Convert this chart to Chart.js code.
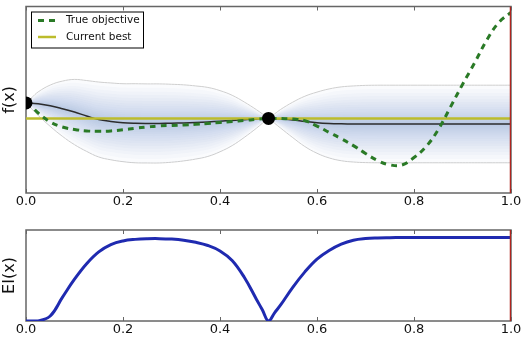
<!DOCTYPE html>
<html>
<head>
<meta charset="utf-8">
<script src="https://cdn.jsdelivr.net/npm/chart.js@4.4.1/dist/chart.umd.min.js"></script>
<style>
  html, body { margin: 0; padding: 0; background: #fff; }
  #wrap { position: relative; width: 521px; height: 339px; overflow: hidden; }
  canvas { position: absolute; left: 0; }
  #gpChart { top: 0; }
  #eiChart { top: 215px; }
</style>
</head>
<body>
<div id="wrap">
  <canvas id="gpChart" width="521" height="215"></canvas>
  <canvas id="eiChart" width="521" height="124"></canvas>
</div>
<script>
// Bayesian optimisation snapshot: GP posterior on top, expected improvement below

var xs = [0, 0.0125, 0.025, 0.05, 0.075, 0.1, 0.125, 0.15, 0.175, 0.2, 0.225, 0.25,
  0.275, 0.3, 0.325, 0.35, 0.375, 0.4, 0.425, 0.45, 0.475, 0.4875, 0.5, 0.5125,
  0.525, 0.55, 0.575, 0.6, 0.625, 0.65, 0.675, 0.7, 0.725, 0.75, 0.775, 0.8,
  0.825, 0.85, 0.875, 0.9, 0.925, 0.95, 0.975, 1.0];

// GP posterior mean
var gpMean = [4.83, 4.81, 4.79, 4.68, 4.52, 4.34, 4.13, 3.94, 3.84, 3.77, 3.74, 3.73,
  3.73, 3.74, 3.76, 3.78, 3.81, 3.85, 3.89, 3.93, 3.97, 3.99, 4.00, 3.99,
  3.98, 3.92, 3.84, 3.77, 3.73, 3.71, 3.70, 3.70, 3.70, 3.70, 3.70, 3.70,
  3.70, 3.70, 3.70, 3.70, 3.70, 3.70, 3.70, 3.70];

// half width of the confidence band
var gpBand = [0, 0.32, 0.63, 1.11, 1.48, 1.75, 1.90, 2.01, 2.06, 2.09, 2.12, 2.12,
  2.12, 2.09, 2.04, 1.96, 1.85, 1.64, 1.35, 0.95, 0.50, 0.25, 0, 0.25,
  0.50, 0.95, 1.35, 1.64, 1.85, 1.98, 2.04, 2.07, 2.08, 2.08, 2.08, 2.08,
  2.08, 2.08, 2.08, 2.08, 2.08, 2.08, 2.08, 2.08];

var trueObjective = [4.83, 4.60, 4.29, 3.81, 3.54, 3.41, 3.33, 3.31, 3.33, 3.39, 3.47, 3.54,
  3.60, 3.62, 3.65, 3.68, 3.73, 3.78, 3.84, 3.89, 3.95, 3.98, 4.00, 4.00,
  3.99, 3.97, 3.88, 3.59, 3.25, 2.91, 2.54, 2.12, 1.74, 1.51, 1.50, 1.90,
  2.49, 3.40, 4.60, 5.82, 6.98, 8.20, 9.15, 9.68];

var expectedImprovement = [0, 0, 0, 0.055, 0.26, 0.46, 0.63, 0.76, 0.84, 0.88, 0.897, 0.904,
  0.905, 0.90, 0.888, 0.865, 0.83, 0.77, 0.665, 0.48, 0.24, 0.12, 0, 0.09,
  0.176, 0.37, 0.54, 0.68, 0.775, 0.845, 0.888, 0.906, 0.913, 0.916, 0.918, 0.918,
  0.918, 0.918, 0.918, 0.918, 0.918, 0.918, 0.918, 0.918];

var obsX = [0.0, 0.5];
var obsY = [4.83, 4.00];
var currentBest = 4.00;
var nextSampleX = 1.0;
var xTicks = [0, 0.2, 0.4, 0.6, 0.8, 1.0];

var FONT = "'DejaVu Sans', 'Noto Sans', sans-serif";
var frameColor = '#666';

function toPoints(ys) {
  return xs.map(function(x, i) { return { x: x, y: ys[i] }; });
}

// axes box with inward ticks on top and bottom edges
var framePlugin = {
  id: 'frame',
  beforeDatasetsDraw: function(chart) {
    var ctx = chart.ctx;
    var a = chart.chartArea;
    var sx = chart.scales.x;
    ctx.save();
    ctx.strokeStyle = frameColor;
    ctx.lineWidth = 1.5;
    ctx.strokeRect(a.left, a.top, a.right - a.left, a.bottom - a.top);
    ctx.lineWidth = 1;
    xTicks.forEach(function(v) {
      var px = Math.round(sx.getPixelForValue(v)) + 0.5;
      ctx.beginPath();
      ctx.moveTo(px, a.bottom);
      ctx.lineTo(px, a.bottom - 4);
      ctx.moveTo(px, a.top);
      ctx.lineTo(px, a.top + 4);
      ctx.stroke();
    });
    ctx.restore();
  }
};

// boxed legend in the upper left corner
var boxLegendPlugin = {
  id: 'boxLegend',
  afterDraw: function(chart) {
    var ctx = chart.ctx;
    var a = chart.chartArea;
    var items = chart.data.datasets.filter(function(d) { return d.label; });
    var left = a.left + 5, top = a.top + 5, w = 112, h = 36;
    ctx.save();
    ctx.fillStyle = '#fff';
    ctx.fillRect(left, top, w, h);
    ctx.strokeStyle = '#000';
    ctx.lineWidth = 1;
    ctx.strokeRect(left + 0.5, top + 0.5, w, h);
    items.forEach(function(d, i) {
      var y = top + 9 + i * 16.5;
      ctx.strokeStyle = d.borderColor;
      ctx.lineWidth = d.borderWidth;
      ctx.setLineDash(d.borderDash || []);
      ctx.beginPath();
      ctx.moveTo(left + 7, y);
      ctx.lineTo(left + 25, y);
      ctx.stroke();
      ctx.setLineDash([]);
      ctx.fillStyle = '#111';
      ctx.font = '10.5px ' + FONT;
      ctx.textBaseline = 'middle';
      ctx.textAlign = 'left';
      ctx.fillText(d.label, left + 35, y);
    });
    ctx.restore();
  }
};

function xScale(height) {
  return {
    type: 'linear',
    min: 0,
    max: 1,
    grid: { display: false, drawTicks: false },
    border: { display: false },
    afterBuildTicks: function(s) {
      s.ticks = xTicks.map(function(v) { return { value: v }; });
    },
    afterFit: function(s) {
      s.height = height;
      s.paddingLeft = 0;
      s.paddingRight = 0;
    },
    ticks: {
      padding: 1,
      color: '#111',
      font: { family: FONT, size: 13 },
      callback: function(v) { return v.toFixed(1); }
    }
  };
}

function yScale(min, max, title) {
  return {
    min: min,
    max: max,
    grid: { display: false, drawTicks: false },
    border: { display: false },
    ticks: { display: false },
    afterFit: function(s) { s.width = 26; },
    title: {
      display: true,
      text: title,
      color: '#111',
      padding: 0,
      font: { family: FONT, size: 16 }
    }
  };
}

// shaded band: stacked translucent layers, densest near the mean
var bandLevels = [1.0, 0.9, 0.8, 0.72, 0.64, 0.57, 0.5, 0.44, 0.38, 0.32, 0.27, 0.22, 0.17, 0.12, 0.08, 0.04];

function bandDatasets() {
  var sets = [];
  bandLevels.forEach(function(k, j) {
    var outer = j === 0;
    var up = xs.map(function(x, i) { return { x: x, y: gpMean[i] + k * gpBand[i] }; });
    var lo = xs.map(function(x, i) { return { x: x, y: gpMean[i] - k * gpBand[i] }; });
    var common = {
      borderColor: outer ? '#cfcfcf' : 'rgba(0,0,0,0)',
      borderWidth: outer ? 1 : 0,
      pointRadius: 0,
      tension: 0.4,
      order: 40 - j
    };
    sets.push(Object.assign({ data: up, fill: '+1', backgroundColor: 'rgba(80,115,165,0.028)' }, common));
    sets.push(Object.assign({ data: lo, fill: false }, common));
  });
  return sets;
}

var gpDatasets = [
  {
    label: 'True objective',
    data: toPoints(trueObjective),
    borderColor: '#2a7a26',
    borderWidth: 3,
    borderDash: [6, 5],
    pointRadius: 0,
    tension: 0.4,
    order: 3
  },
  {
    label: 'Current best',
    data: [{ x: 0, y: currentBest }, { x: 1, y: currentBest }],
    borderColor: '#bcbc2c',
    borderWidth: 2.5,
    pointRadius: 0,
    order: 4
  },
  {
    data: toPoints(gpMean),
    borderColor: '#2c2c2c',
    borderWidth: 1.5,
    pointRadius: 0,
    tension: 0.4,
    order: 5
  },
  {
    data: obsX.map(function(x, i) { return { x: x, y: obsY[i] }; }),
    showLine: false,
    pointRadius: 6.5,
    pointBackgroundColor: '#000',
    pointBorderColor: '#000',
    borderWidth: 0,
    clip: { left: 0, top: 0, right: 0, bottom: 0 },
    order: 2
  },
  {
    data: [{ x: nextSampleX, y: 0 }, { x: nextSampleX, y: 10 }],
    borderColor: '#b0241f',
    borderWidth: 2.5,
    pointRadius: 0,
    order: 1
  }
].concat(bandDatasets());

new Chart(document.getElementById('gpChart'), {
  type: 'line',
  data: { datasets: gpDatasets },
  options: {
    responsive: false,
    animation: false,
    devicePixelRatio: 1,
    events: [],
    layout: { padding: { top: 4, right: 10, left: 0, bottom: 0 } },
    plugins: { legend: { display: false }, tooltip: { enabled: false } },
    scales: {
      x: xScale(22),
      y: yScale(0, 10, 'f(x)')
    }
  },
  plugins: [framePlugin, boxLegendPlugin]
});

new Chart(document.getElementById('eiChart'), {
  type: 'line',
  data: {
    datasets: [
      {
        data: toPoints(expectedImprovement),
        borderColor: '#1f2ab0',
        borderWidth: 3,
        pointRadius: 0,
        tension: 0.4,
        order: 2
      },
      {
        data: [{ x: nextSampleX, y: 0 }, { x: nextSampleX, y: 1 }],
        borderColor: '#b0241f',
        borderWidth: 2.5,
        pointRadius: 0,
        order: 1
      }
    ]
  },
  options: {
    responsive: false,
    animation: false,
    devicePixelRatio: 1,
    events: [],
    layout: { padding: { top: 15, right: 10, left: 0, bottom: 0 } },
    plugins: { legend: { display: false }, tooltip: { enabled: false } },
    scales: {
      x: xScale(18),
      y: yScale(0, 1, 'EI(x)')
    }
  },
  plugins: [framePlugin]
});
</script>
</body>
</html>
